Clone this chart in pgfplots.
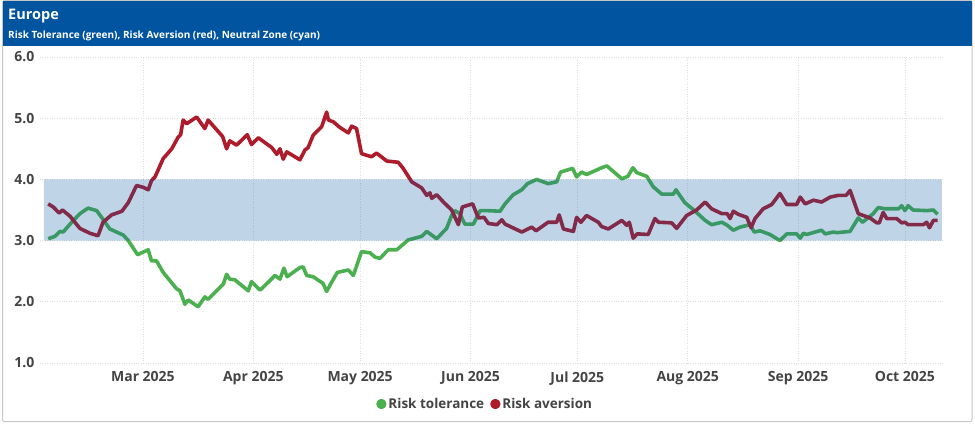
\documentclass[border=0pt]{standalone}
\usepackage{pgfplots}
\pgfplotsset{compat=1.18}
\usepackage{fontspec}
\setmainfont{Open Sans}
\definecolor{hdrblue}{RGB}{1,84,159}
\definecolor{tolgreen}{RGB}{76,176,80}
\definecolor{avred}{RGB}{174,28,44}
\definecolor{ticktxt}{RGB}{68,68,68}

% x = days since 1 Mar 2025
\begin{document}
\begin{tikzpicture}[x=1pt,y=1pt]
\useasboundingbox (0,0) rectangle (975,424);
\draw[gray!45, line width=1pt, rounded corners=2pt] (2.5,2.5) rectangle (972,423.5);
\fill[hdrblue] (3,378) rectangle (971.5,423);
\node[anchor=west, text=white, inner sep=0pt, font=\fontsize{14.5}{16}\selectfont\bfseries] at (8,408) {Europe};
\node[anchor=west, text=white, inner sep=0pt, font=\fontsize{10}{12}\selectfont\bfseries] at (8,388) {Risk Tolerance (green), Risk Aversion (red), Neutral Zone (cyan)};
\begin{axis}[
  at={(40pt,61pt)}, anchor=south west,
  width=903pt, height=306pt, scale only axis,
  xmin=-28.9, xmax=224.7, ymin=1, ymax=6,
  axis line style={draw=none},
  major tick length=0pt,
  xtick={0,31,61,92,122,153,184,214},
  xticklabels={Mar 2025,Apr 2025,May 2025,Jun 2025,Jul 2025,Aug 2025,Sep 2025,Oct 2025},
  ytick={1,2,3,4,5,6},
  yticklabels={1.0,2.0,3.0,4.0,5.0,6.0},
  grid=major,
  major grid style={dotted, gray!25, line width=0.7pt},
  ticklabel style={font=\fontsize{14}{16}\selectfont\bfseries, text=ticktxt},
  yticklabel style={anchor=east, xshift=-2pt},
  xticklabel style={yshift=-5pt},
  legend style={at={(0.493,-0.134)}, anchor=center, draw=none, fill=none,
    legend columns=-1, font=\fontsize{13.5}{15}\selectfont\bfseries, text=ticktxt,
    /tikz/every even column/.append style={column sep=4pt}},
  legend image code/.code={\fill[#1] (2pt,0pt) circle (3.3pt);},
]
\addplot[color=tolgreen, line width=3.6pt, line join=round] coordinates {
(-26.6,3.03) (-24.7,3.07) (-23.3,3.15) (-22.4,3.14) (-20.0,3.30) (-17.7,3.44)
(-15.4,3.53) (-13.0,3.49) (-11.6,3.38) (-9.3,3.19) (-5.5,3.09) (-4.1,3.00)
(-1.5,2.77) (1.5,2.85) (2.4,2.67) (3.8,2.67) (5.7,2.48) (9.5,2.21) (10.4,2.18)
(11.8,1.96) (12.7,2.03) (15.5,1.92) (17.4,2.08) (18.3,2.04) (22.6,2.29)
(23.5,2.45) (24.4,2.37) (25.8,2.36) (29.6,2.18) (30.5,2.33) (32.9,2.19)
(35.2,2.32) (37.1,2.43) (38.5,2.37) (39.6,2.55) (40.5,2.41) (44.1,2.56)
(45.0,2.57) (46.0,2.43) (47.8,2.41) (50.6,2.30) (51.6,2.17) (53.0,2.32)
(54.6,2.48) (57.7,2.52) (59.1,2.43) (61.4,2.82) (63.8,2.80) (65.2,2.73)
(66.6,2.71) (68.9,2.85) (71.3,2.85) (74.5,3.01) (78.3,3.07) (79.7,3.15)
(82.5,3.03) (85.3,3.20) (86.7,3.41) (87.6,3.49) (89.0,3.44) (90.4,3.27)
(92.8,3.27) (94.7,3.49) (96.5,3.49) (100.3,3.48) (101.7,3.60) (104.0,3.75)
(106.4,3.83) (108.0,3.93) (110.6,4.00) (113.8,3.93) (116.2,3.96) (117.3,4.12)
(120.7,4.18) (121.8,4.04) (123.2,4.12) (124.6,4.08) (128.8,4.19) (130.3,4.22)
(134.5,4.01) (136.2,4.05) (137.6,4.19) (138.7,4.11) (141.5,4.05) (143.3,3.88)
(145.7,3.76) (149.0,3.76) (149.7,3.83) (152.2,3.62) (155.1,3.48) (157.9,3.33)
(159.7,3.26) (162.6,3.30) (164.1,3.25) (165.8,3.17) (167.7,3.22) (170.5,3.26)
(171.7,3.14) (173.3,3.16) (176.1,3.10) (178.9,3.00) (180.8,3.11) (183.6,3.11)
(184.6,3.04) (185.5,3.12) (186.4,3.10) (190.6,3.17) (191.6,3.11) (193.9,3.14)
(194.9,3.13) (198.6,3.15) (200.9,3.37) (202.1,3.30) (205.1,3.44) (206.5,3.54)
(208.4,3.52) (212.2,3.52) (213.1,3.57) (214.0,3.49) (214.9,3.57) (216.3,3.50)
(220.1,3.49) (222.0,3.50) (223.2,3.43)
};
\addlegendentry{Risk tolerance}
\addplot[color=avred, line width=3.6pt, line join=round] coordinates {
(-26.6,3.60) (-25.2,3.55) (-23.5,3.45) (-22.6,3.50) (-20.5,3.40) (-17.7,3.20)
(-14.9,3.12) (-12.6,3.08) (-11.2,3.30) (-8.8,3.42) (-5.9,3.48) (-4.1,3.62)
(-1.8,3.90) (0.1,3.87) (1.5,3.83) (2.4,3.98) (3.4,4.04) (5.7,4.34) (8.1,4.50)
(9.9,4.69) (10.6,4.73) (11.3,4.97) (12.3,4.91) (15.1,5.02) (17.4,4.83)
(18.3,4.97) (22.4,4.70) (23.5,4.50) (24.4,4.63) (26.3,4.56) (29.3,4.73)
(30.5,4.57) (32.4,4.68) (36.2,4.52) (37.6,4.41) (38.5,4.50) (39.4,4.33)
(40.4,4.45) (44.1,4.32) (45.5,4.48) (46.4,4.52) (47.8,4.72) (50.2,4.86)
(51.6,5.10) (52.1,4.97) (53.5,4.94) (55.3,4.85) (57.7,4.76) (58.6,4.87)
(60.0,4.83) (61.4,4.42) (64.2,4.37) (65.6,4.43) (68.5,4.30) (71.7,4.28)
(73.1,4.18) (75.5,3.96) (78.3,3.86) (79.7,3.74) (80.6,3.78) (81.1,3.69)
(82.5,3.75) (84.4,3.63) (86.7,3.50) (88.6,3.26) (89.7,3.55) (92.6,3.60)
(94.2,3.37) (95.8,3.38) (97.0,3.28) (99.4,3.26) (100.8,3.34) (101.7,3.27)
(106.4,3.14) (109.2,3.22) (110.4,3.16) (113.8,3.30) (116.2,3.30) (116.9,3.42)
(118.1,3.19) (120.9,3.15) (121.8,3.38) (123.0,3.30) (124.6,3.41) (127.9,3.30)
(128.8,3.23) (130.7,3.19) (134.5,3.33) (135.9,3.25) (136.6,3.30) (137.7,3.04)
(138.8,3.11) (141.9,3.10) (143.8,3.36) (144.8,3.30) (148.5,3.29) (149.9,3.20)
(152.7,3.41) (155.5,3.50) (157.9,3.63) (159.7,3.52) (162.6,3.44) (164.1,3.44)
(164.9,3.36) (165.8,3.48) (167.2,3.43) (169.6,3.38) (170.8,3.21) (171.9,3.36)
(174.2,3.52) (176.6,3.59) (178.9,3.77) (180.8,3.59) (183.6,3.59) (184.6,3.71)
(186.0,3.60) (188.3,3.66) (190.6,3.63) (193.0,3.71) (195.3,3.74) (197.5,3.74)
(198.6,3.82) (200.9,3.44) (204.2,3.37) (206.1,3.29) (206.8,3.29) (207.9,3.46)
(208.9,3.36) (211.7,3.36) (213.1,3.29) (214.0,3.30) (214.9,3.26) (219.2,3.26)
(220.1,3.30) (220.9,3.21) (222.0,3.33) (223.2,3.33)
};
\addlegendentry{Risk aversion}
% neutral zone, drawn over the lines
\addplot[forget plot, draw=none, fill=hdrblue, fill opacity=0.25] coordinates {
(-27.8,3) (224.4,3) (224.4,4) (-27.8,4) (-27.8,3)};
\end{axis}
\end{tikzpicture}
\end{document}
